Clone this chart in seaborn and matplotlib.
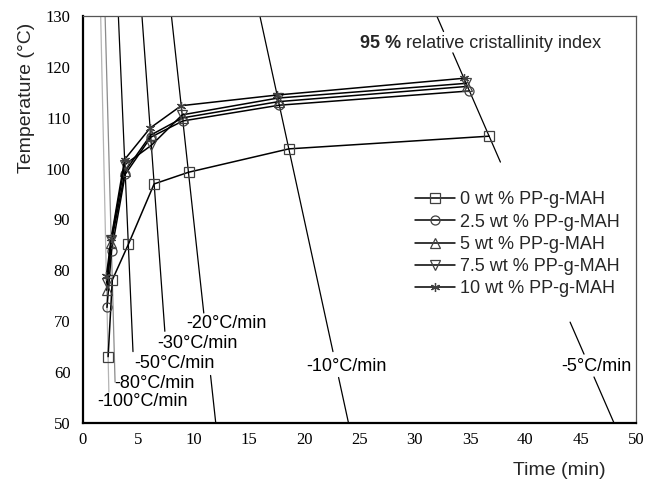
import numpy as np
import pandas as pd
import matplotlib
matplotlib.use('Agg')
import matplotlib.pyplot as plt
import seaborn as sns
from matplotlib.ticker import MultipleLocator

sns.set_theme(style='white')
plt.rcParams['font.family'] = ['Liberation Sans', 'DejaVu Sans']

_fontsize = 13

# cooling rates (degC/min); every cooling line starts at 290 degC at t=0
rates = [100, 80, 50, 30, 20, 10, 5]
t_start = 290
rate_colors = ['#b4b4b4', '#8a8a8a', 'black', 'black', 'black', 'black', 'black']
# visible temperature spans of each cooling line (gaps where text sits)
rate_segments = [
    [(130, 56)],
    [(130, 58)],
    [(130, 64)],
    [(130, 68)],
    [(130, 71.6), (59.3, 50)],
    [(130, 64), (58.9, 50)],
    [(130, 127), (122.8, 101.3), (69.8, 63.5), (59, 50)],
]
rate_labels = ['-100°C/min', '-80°C/min', '-50°C/min', '-30°C/min',
               '-20°C/min', '-10°C/min', '-5°C/min']
label_time = [5.38, 6.42, 8.23, 10.35, 12.93, 23.78, 46.38]
label_temp = [54.1, 57.8, 61.6, 65.5, 69.5, 61.0, 61.0]

# 95 % relative crystallinity points, one per cooling rate
series_names = ['0 wt % PP-g-MAH', '2.5 wt % PP-g-MAH', '5 wt % PP-g-MAH',
                '7.5 wt % PP-g-MAH', '10 wt % PP-g-MAH']
series_markers = ['s', 'o', '^', 'v', (6, 2, 0)]
temp_0 = [63.0, 78.1, 85.1, 97.0, 99.3, 103.9, 106.4]
time_0 = [2.27, 2.65, 4.10, 6.43, 9.54, 18.61, 36.72]
temp_25 = [72.7, 83.8, 98.9, 106.2, 109.4, 112.5, 115.3]
time_25 = [2.17, 2.58, 3.82, 6.13, 9.03, 17.75, 34.94]
temp_5 = [76.1, 85.4, 99.5, 106.6, 110.0, 113.2, 116.2]
time_5 = [2.14, 2.56, 3.81, 6.11, 9.00, 17.68, 34.76]
temp_75 = [77.5, 86.0, 100.8, 104.6, 110.6, 113.9, 116.8]
time_75 = [2.13, 2.55, 3.78, 6.18, 8.97, 17.61, 34.64]
temp_10 = [78.8, 86.3, 101.8, 108.0, 112.4, 114.5, 117.8]
time_10 = [2.11, 2.55, 3.76, 6.07, 8.88, 17.55, 34.44]

series_times = [time_0, time_25, time_5, time_75, time_10]
series_temps = [temp_0, temp_25, temp_5, temp_75, temp_10]

fig = plt.figure(figsize=(6.54, 4.83), dpi=100)
ax = fig.add_axes([0.1269, 0.1248, 0.8456, 0.8415])

for r, col, segs in zip(rates, rate_colors, rate_segments):
    for t_hi, t_lo in segs:
        temps = np.array([t_hi, t_lo])
        ax.plot((t_start - temps) / r, temps, color=col, lw=0.9, zorder=1)

for lab, x, y in zip(rate_labels, label_time, label_temp):
    ax.text(x, y, lab, ha='center', va='center', fontsize=_fontsize, color='black')

for name, m, tt, TT in zip(series_names, series_markers, series_times, series_temps):
    df = pd.DataFrame({'time': tt, 'temp': TT})
    sns.lineplot(data=df, x='time', y='temp', ax=ax, color='black', lw=1.1,
                 marker=m, markersize=6.5, markerfacecolor='none',
                 markeredgecolor='#404040', markeredgewidth=0.9,
                 label=name, sort=False, zorder=3)

ax.set_xlim(0, 50)
ax.set_ylim(50, 130)
ax.xaxis.set_major_locator(MultipleLocator(5))
ax.xaxis.set_minor_locator(MultipleLocator(2.5))
ax.yaxis.set_major_locator(MultipleLocator(10))
ax.yaxis.set_minor_locator(MultipleLocator(5))
ax.tick_params(which='both', direction='in', top=False, right=False,
               labelsize=12, colors='black')
ax.tick_params(which='major', length=6, width=1.4)
ax.tick_params(which='minor', length=3, width=1.2)
ax.tick_params(axis='x', pad=7)
ax.tick_params(axis='y', pad=9)
for lbl in ax.get_xticklabels() + ax.get_yticklabels():
    lbl.set_fontfamily('Liberation Serif')

for s in ['left', 'bottom']:
    ax.spines[s].set_linewidth(1.6)
    ax.spines[s].set_color('black')
for s in ['top', 'right']:
    ax.spines[s].set_linewidth(0.9)
    ax.spines[s].set_color('#555555')

ax.set_xlabel('Time (min)', fontsize=14)
ax.set_ylabel('Temperature (°C)', fontsize=14)
ax.xaxis.set_label_coords(0.862, -0.097)
ax.yaxis.set_label_coords(-0.087, 0.80)

t1 = ax.text(25.05, 124.7, '95 %', fontsize=_fontsize, fontweight='bold',
             ha='left', va='center')
ax.annotate(' relative cristallinity index', xy=(1, 0.5), xycoords=t1,
            fontsize=_fontsize, ha='left', va='center')

ax.legend(loc='upper left', bbox_to_anchor=(0.600, 0.569), frameon=False,
          fontsize=_fontsize, handlelength=2.2, handletextpad=0.3,
          labelspacing=0.29, borderpad=0, borderaxespad=0)

plt.savefig('out.png', dpi=100)
